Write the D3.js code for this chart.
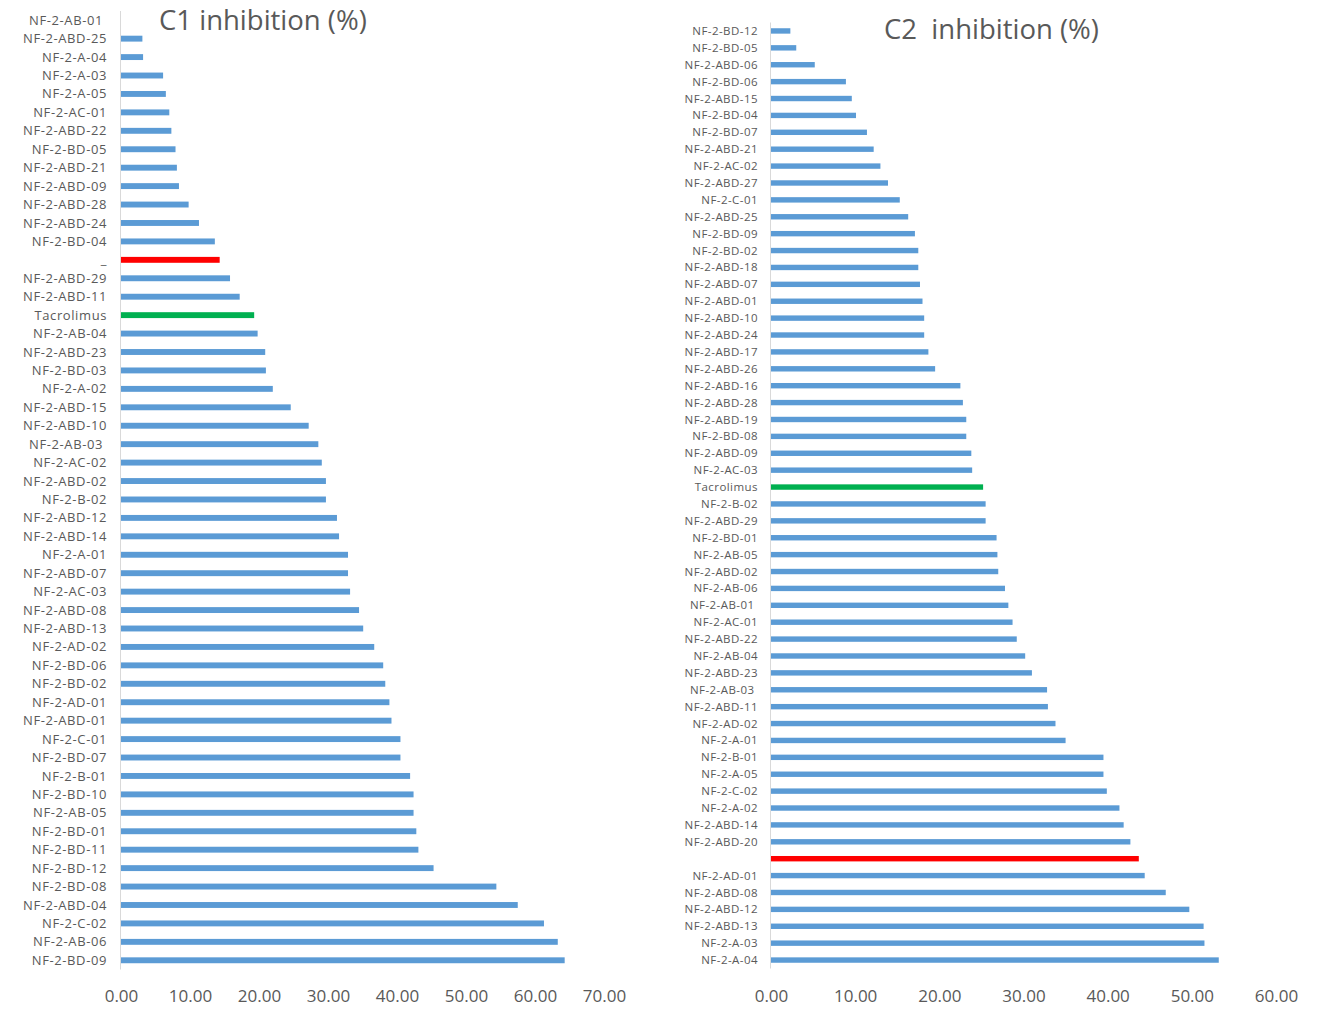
<!DOCTYPE html>
<html>
<head>
<meta charset="utf-8">
<script src="https://cdn.jsdelivr.net/npm/d3@7"></script>
<style>
  body { margin: 0; background: #fff; }
  svg text { font-family: "Open Sans", "Noto Sans", sans-serif; fill: #595959; white-space: pre; }
</style>
</head>
<body>
<div id="chart"></div>
<script>
// C1 inhibition, top to bottom
var c1Names = ["NF-2-AB-01 ", "NF-2-ABD-25", "NF-2-A-04", "NF-2-A-03", "NF-2-A-05", "NF-2-AC-01",
  "NF-2-ABD-22", "NF-2-BD-05", "NF-2-ABD-21", "NF-2-ABD-09", "NF-2-ABD-28", "NF-2-ABD-24",
  "NF-2-BD-04", "_", "NF-2-ABD-29", "NF-2-ABD-11", "Tacrolimus", "NF-2-AB-04", "NF-2-ABD-23",
  "NF-2-BD-03", "NF-2-A-02", "NF-2-ABD-15", "NF-2-ABD-10", "NF-2-AB-03 ", "NF-2-AC-02",
  "NF-2-ABD-02", "NF-2-B-02", "NF-2-ABD-12", "NF-2-ABD-14", "NF-2-A-01", "NF-2-ABD-07",
  "NF-2-AC-03", "NF-2-ABD-08", "NF-2-ABD-13", "NF-2-AD-02", "NF-2-BD-06", "NF-2-BD-02",
  "NF-2-AD-01", "NF-2-ABD-01", "NF-2-C-01", "NF-2-BD-07", "NF-2-B-01", "NF-2-BD-10",
  "NF-2-AB-05", "NF-2-BD-01", "NF-2-BD-11", "NF-2-BD-12", "NF-2-BD-08", "NF-2-ABD-04",
  "NF-2-C-02", "NF-2-AB-06", "NF-2-BD-09"];
var c1Values = [0, 3.1, 3.2, 6.1, 6.5, 7.0, 7.3, 7.9, 8.1, 8.4, 9.8, 11.3,
  13.6, 14.3, 15.8, 17.2, 19.3, 19.8, 20.9, 21.0, 22.0, 24.6, 27.2, 28.6, 29.1,
  29.7, 29.7, 31.3, 31.6, 32.9, 32.9, 33.2, 34.5, 35.1, 36.7, 38.0, 38.3,
  38.9, 39.2, 40.5, 40.5, 41.9, 42.4, 42.4, 42.8, 43.1, 45.3, 54.4, 57.5,
  61.3, 63.3, 64.3];
var c1Ticks = [0, 10, 20, 30, 40, 50, 60, 70];

// C2 inhibition, top to bottom
var c2Names = ["NF-2-BD-12", "NF-2-BD-05", "NF-2-ABD-06", "NF-2-BD-06", "NF-2-ABD-15", "NF-2-BD-04",
  "NF-2-BD-07", "NF-2-ABD-21", "NF-2-AC-02", "NF-2-ABD-27", "NF-2-C-01", "NF-2-ABD-25",
  "NF-2-BD-09", "NF-2-BD-02", "NF-2-ABD-18", "NF-2-ABD-07", "NF-2-ABD-01", "NF-2-ABD-10",
  "NF-2-ABD-24", "NF-2-ABD-17", "NF-2-ABD-26", "NF-2-ABD-16", "NF-2-ABD-28", "NF-2-ABD-19",
  "NF-2-BD-08", "NF-2-ABD-09", "NF-2-AC-03", "Tacrolimus", "NF-2-B-02", "NF-2-ABD-29",
  "NF-2-BD-01", "NF-2-AB-05", "NF-2-ABD-02", "NF-2-AB-06", "NF-2-AB-01 ", "NF-2-AC-01",
  "NF-2-ABD-22", "NF-2-AB-04", "NF-2-ABD-23", "NF-2-AB-03 ", "NF-2-ABD-11", "NF-2-AD-02",
  "NF-2-A-01", "NF-2-B-01", "NF-2-A-05", "NF-2-C-02", "NF-2-A-02", "NF-2-ABD-14",
  "NF-2-ABD-20", "", "NF-2-AD-01", "NF-2-ABD-08", "NF-2-ABD-12", "NF-2-ABD-13",
  "NF-2-A-03", "NF-2-A-04"];
var c2Values = [2.3, 3.0, 5.2, 8.9, 9.6, 10.1, 11.4, 12.2, 13.0, 13.9, 15.3, 16.3,
  17.1, 17.5, 17.5, 17.7, 18.0, 18.2, 18.2, 18.7, 19.5, 22.5, 22.8, 23.2,
  23.2, 23.8, 23.9, 25.2, 25.5, 25.5, 26.8, 26.9, 27.0, 27.8, 28.2, 28.7,
  29.2, 30.2, 31.0, 32.8, 32.9, 33.8, 35.0, 39.5, 39.5, 39.9, 41.4, 41.9,
  42.7, 43.7, 44.4, 46.9, 49.7, 51.4, 51.5, 53.2];
var c2Ticks = [0, 10, 20, 30, 40, 50, 60];

var blue = "#5b9bd5", red = "#ff0000", green = "#00b050";

var svg = d3.select("#chart").append("svg")
    .attr("width", 1325)
    .attr("height", 1023);

function barColor(name) {
  if (name === "Tacrolimus") return green;
  if (name === "" || name === "_") return red;
  return blue;
}

function drawChart(opts) {
  var data = opts.names.map(function(n, i) { return { name: n, value: opts.values[i] }; });

  var x = d3.scaleLinear()
      .domain([0, opts.ticks[opts.ticks.length - 1]])
      .range([opts.left, opts.right]);

  var y = d3.scaleBand()
      .domain(d3.range(data.length))
      .range([opts.top, opts.bottom])
      .paddingInner(0.68)
      .paddingOuter(0.34);

  var g = svg.append("g");

  // bars
  g.selectAll(".bar")
      .data(data)
      .enter()
      .append("rect")
      .attr("class", "bar")
      .attr("x", x(0))
      .attr("y", function(d, i) { return y(i); })
      .attr("width", function(d) { return x(d.value) - x(0); })
      .attr("height", y.bandwidth())
      .attr("fill", function(d) { return barColor(d.name); });

  // category axis line
  g.append("line")
      .attr("x1", x(0) - 0.5).attr("x2", x(0) - 0.5)
      .attr("y1", opts.top).attr("y2", opts.bottom)
      .attr("stroke", "#d9d9d9")
      .attr("stroke-width", 1);

  // category labels
  g.selectAll(".cat")
      .data(data)
      .enter()
      .append("text")
      .attr("class", "cat")
      .attr("x", x(0) - opts.labelGap)
      .attr("y", function(d, i) { return y(i) + y.bandwidth() / 2; })
      .attr("dy", "0.35em")
      .attr("text-anchor", "end")
      .style("font-size", opts.labelSize + "px")
      .style("letter-spacing", opts.labelSpacing + "px")
      .text(function(d) { return d.name; });

  // value axis, labels only
  var xAxis = d3.axisBottom(x)
      .tickValues(opts.ticks)
      .tickFormat(d3.format(".2f"))
      .tickSize(0)
      .tickPadding(0);

  var ax = g.append("g")
      .attr("transform", "translate(0," + opts.axisY + ")")
      .call(xAxis);
  ax.select(".domain").remove();
  ax.selectAll("text")
      .style("font-size", "17px")
      .attr("fill", "#595959");

  // title
  g.append("text")
      .attr("x", opts.titleX)
      .attr("y", opts.titleY)
      .style("font-size", "27.5px")
      .text(opts.title);
}

drawChart({
  names: c1Names, values: c1Values, ticks: c1Ticks,
  left: 121, right: 604, top: 11, bottom: 969.5,
  labelGap: 14, labelSize: 13, labelSpacing: 0.6, axisY: 990,
  title: "C1 inhibition (%)", titleX: 159, titleY: 30
});

drawChart({
  names: c2Names, values: c2Values, ticks: c2Ticks,
  left: 771, right: 1276, top: 22.5, bottom: 968.5,
  labelGap: 13, labelSize: 11.5, labelSpacing: 0.45, axisY: 990,
  title: "C2  inhibition (%)", titleX: 884, titleY: 39
});
</script>
</body>
</html>
